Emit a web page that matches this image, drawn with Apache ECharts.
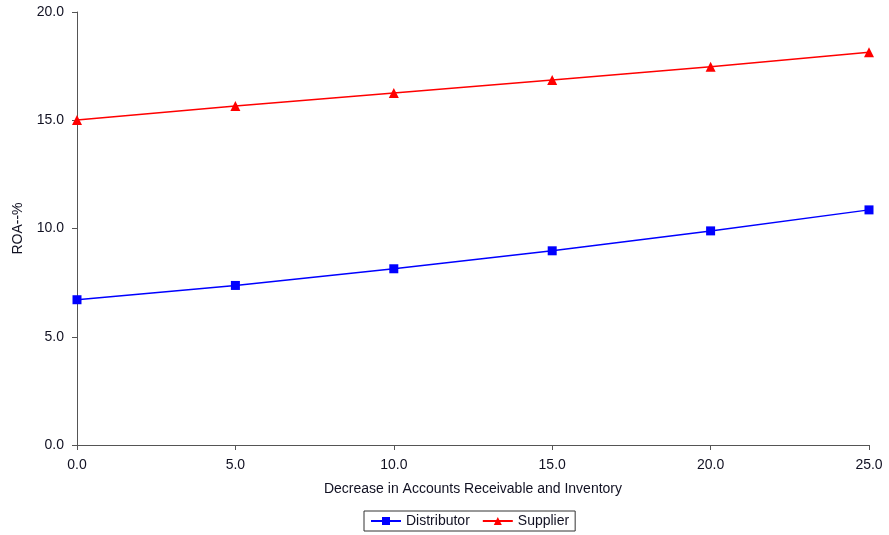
<!DOCTYPE html>
<html>
<head>
<meta charset="utf-8">
<script src="https://cdn.jsdelivr.net/npm/echarts@6/dist/echarts.min.js"></script>
<style>html,body{margin:0;padding:0;background:#fff}#c{width:889px;height:535px}</style>
</head>
<body>
<div id="c"></div>
<script>
const xValues = [0, 5, 10, 15, 20, 25];
const distributor = [6.71, 7.37, 8.14, 8.97, 9.89, 10.86];
const supplier = [15.01, 15.66, 16.26, 16.86, 17.47, 18.14];
const xTitle = 'Decrease in Accounts Receivable and Inventory';
const yTitle = 'ROA--%';

const chart = echarts.init(document.getElementById('c'));
const font = 'Liberation Sans, Arial, sans-serif';
const txt = '#111122';
const axisCommon = {
  axisLine: {show: true, lineStyle: {color: '#555', width: 1}},
  axisTick: {show: true, inside: false, length: 5, lineStyle: {color: '#555'}},
  splitLine: {show: false},
  axisLabel: {color: txt, fontSize: 14, fontFamily: font, formatter: v => v.toFixed(1)},
  nameTextStyle: {color: txt, fontSize: 14, fontFamily: font}
};
chart.setOption({
  animation: false,
  grid: {left: 77, right: 20, top: 12, bottom: 90, containLabel: false, outerBoundsMode: 'none'},
  xAxis: Object.assign({}, axisCommon, {
    type: 'value', min: 0, max: 25, interval: 5,
    name: xTitle, nameLocation: 'middle', nameGap: 37,
    axisLabel: Object.assign({}, axisCommon.axisLabel, {margin: 13})
  }),
  yAxis: Object.assign({}, axisCommon, {
    type: 'value', min: 0, max: 20, interval: 5,
    name: yTitle, nameLocation: 'middle', nameGap: 52, nameRotate: 90,
    axisLabel: Object.assign({}, axisCommon.axisLabel, {margin: 13})
  }),
  legend: {
    top: 511, left: 364,
    borderColor: '#333', borderWidth: 1, borderRadius: 0,
    padding: [3, 6], itemGap: 12, itemWidth: 30, itemHeight: 10,
    textStyle: {color: txt, fontSize: 14, fontFamily: font},
    data: ['Distributor', 'Supplier']
  },
  series: [
    {name: 'Distributor', type: 'line', data: xValues.map((x, i) => [x, distributor[i]]),
     symbol: 'rect', symbolSize: 9, color: '#0000ff', lineStyle: {color: '#0000ff', width: 1.5}},
    {name: 'Supplier', type: 'line', data: xValues.map((x, i) => [x, supplier[i]]),
     symbol: 'triangle', symbolSize: 10, color: '#ff0000', lineStyle: {color: '#ff0000', width: 1.5}}
  ]
});
</script>
</body>
</html>
